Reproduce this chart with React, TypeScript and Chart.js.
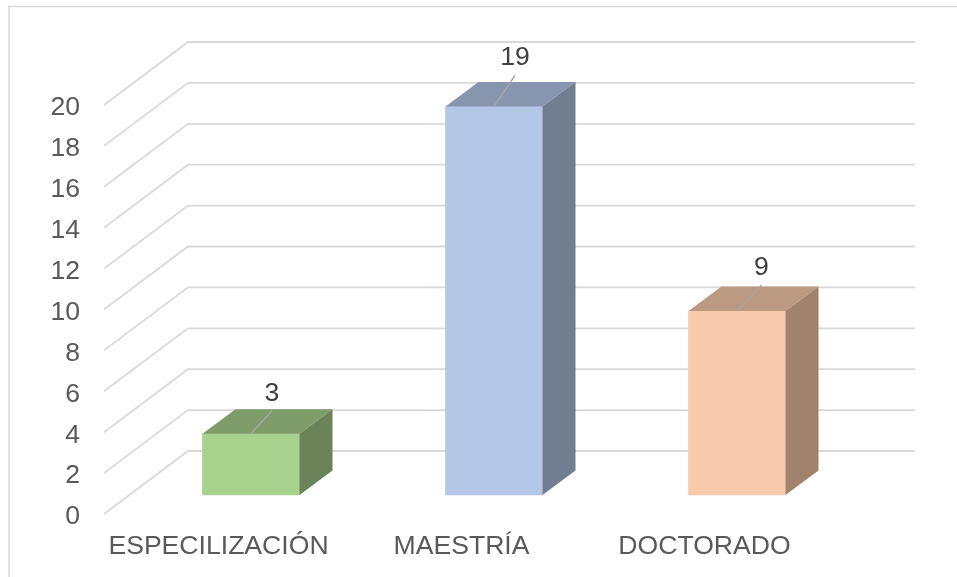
import React, { useEffect, useRef } from "react";
import { Chart, registerables } from "chart.js";

Chart.register(...registerables);

const categories = ["ESPECILIZACIÓN", "MAESTRÍA", "DOCTORADO"];
const values = [3, 19, 9];
const frontColors = ["#A9D18E", "#B4C7E7", "#F8CBAD"];
const topColors = ["#7F9D6B", "#8796AE", "#BC9A82"];
const sideColors = ["#6A8359", "#717D91", "#A0826D"];
const leaderDx = [21, 21, 24.5];
const leaderDy = [-23, -31, -26];
const labelRise = [17, 18, 17];

const FONT = '"Liberation Sans", Arial, sans-serif';
const FONT_SIZE = 26.6;
const GRID = "#D9D9D9";
const LABEL_DROP = 3; // the axis labels sit a little below the front end of their grid line
const WALL_DX = 84;
const WALL_DY = -63;
const WALL_LEFT = 104;
const WALL_RIGHT = 915;
const BAR_SHIFT_X = 32.5;
const BAR_SHIFT_Y = -19 - LABEL_DROP;
const DEPTH_X = 33;
const DEPTH_Y = -24.5;

const poly = (ctx: CanvasRenderingContext2D, pts: number[][], fill: string) => {
  ctx.beginPath();
  pts.forEach(([x, y], i) => (i ? ctx.lineTo(x, y) : ctx.moveTo(x, y)));
  ctx.closePath();
  ctx.fillStyle = fill;
  ctx.fill();
};

const threeD = {
  id: "threeD",
  beforeDatasetsDraw(chart: any) {
    const { ctx, scales } = chart;
    ctx.save();
    // chart frame
    ctx.strokeStyle = GRID;
    ctx.lineWidth = 1.5;
    ctx.beginPath();
    ctx.moveTo(9, 577);
    ctx.lineTo(9, 6.5);
    ctx.lineTo(957, 6.5);
    ctx.stroke();
    // walls
    ctx.lineWidth = 1.8;
    scales.y.ticks.forEach((t: any) => {
      const y = scales.y.getPixelForValue(t.value) - LABEL_DROP;
      ctx.beginPath();
      ctx.moveTo(WALL_LEFT, y);
      ctx.lineTo(WALL_LEFT + WALL_DX, y + WALL_DY);
      ctx.lineTo(WALL_RIGHT, y + WALL_DY);
      ctx.stroke();
    });
    ctx.restore();
    ctx.save();
    ctx.translate(BAR_SHIFT_X, BAR_SHIFT_Y);
  },
  afterDatasetsDraw(chart: any) {
    const { ctx } = chart;
    const bars = chart.getDatasetMeta(0).data;
    bars.forEach((bar: any, i: number) => {
      const { x, y, base, width } = bar.getProps(["x", "y", "base", "width"], true);
      const l = x - width / 2;
      const r = x + width / 2;
      poly(ctx, [[l, y], [r, y], [r + DEPTH_X, y + DEPTH_Y], [l + DEPTH_X, y + DEPTH_Y]], topColors[i]);
      poly(ctx, [[r, y], [r + DEPTH_X, y + DEPTH_Y], [r + DEPTH_X, base + DEPTH_Y], [r, base]], sideColors[i]);
      const ex = x + leaderDx[i];
      const ey = y + leaderDy[i];
      ctx.strokeStyle = "#A6A6A6";
      ctx.lineWidth = 1.4;
      ctx.beginPath();
      ctx.moveTo(x, y);
      ctx.lineTo(ex, ey);
      ctx.stroke();
      ctx.fillStyle = "#404040";
      ctx.font = `${FONT_SIZE}px ${FONT}`;
      ctx.textAlign = "center";
      ctx.textBaseline = "middle";
      ctx.fillText(String(values[i]), ex, ey - labelRise[i]);
    });
    ctx.restore();
  },
};

export default function App() {
  const ref = useRef<HTMLCanvasElement>(null);
  useEffect(() => {
    const chart = new Chart(ref.current as HTMLCanvasElement, {
      type: "bar",
      data: {
        labels: categories,
        datasets: [
          {
            data: values,
            backgroundColor: frontColors,
            barThickness: 97,
            clip: false,
          } as any,
        ],
      },
      options: {
        responsive: false,
        animation: false,
        layout: { padding: { top: 105 + LABEL_DROP, right: 131, left: 0, bottom: 0 } },
        plugins: { legend: { display: false }, tooltip: { enabled: false } },
        scales: {
          x: {
            grid: { display: false, drawTicks: false },
            border: { display: false },
            afterFit: (s: any) => {
              s.height = 63 - LABEL_DROP;
            },
            ticks: {
              autoSkip: false,
              maxRotation: 0,
              padding: 14,
              color: "#595959",
              font: { family: FONT, size: FONT_SIZE },
            },
          },
          y: {
            min: 0,
            max: 20,
            grid: { display: false, drawTicks: false },
            border: { display: false },
            afterFit: (s: any) => {
              s.width = 97;
            },
            ticks: {
              stepSize: 2,
              padding: 17,
              color: "#595959",
              font: { family: FONT, size: FONT_SIZE },
            },
          },
        },
      },
      plugins: [threeD],
    } as any);
    return () => chart.destroy();
  }, []);
  return (
    <canvas
      ref={ref}
      width={957}
      height={577}
      style={{ position: "fixed", left: 0, top: 0, width: 957, height: 577 }}
    />
  );
}
